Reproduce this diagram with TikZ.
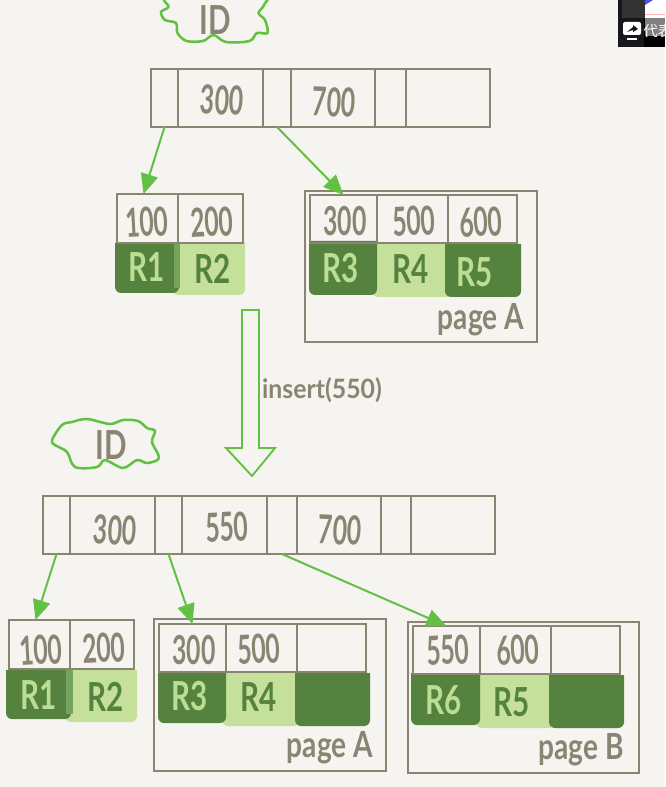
\documentclass[tikz,border=0pt]{standalone}
\usepackage{fontspec}
\setmainfont{Lato}
\newfontfamily\cjkf{Noto Sans CJK SC}
\usetikzlibrary{arrows.meta}
\definecolor{paper}{HTML}{F5F4F0}
\definecolor{ink}{HTML}{8A8472}
\definecolor{leaf}{HTML}{62C143}
\definecolor{darkg}{HTML}{55833F}
\definecolor{lightg}{HTML}{C4E09B}
\definecolor{mixg}{HTML}{76A35C}
\definecolor{pale}{HTML}{BCDD94}
\definecolor{chip}{HTML}{15171A}
\tikzset{
  x=0.75pt,y=-0.75pt,
  cellbox/.style={draw=ink,line width=1.6pt,inner sep=0pt,outer sep=0pt},
  hand/.style={inner sep=0pt,text=ink},
  onlight/.style={inner sep=0pt,text=darkg},
  ondark/.style={inner sep=0pt,text=pale},
  link/.style={draw=leaf,line width=1.5pt,-{Triangle[length=15pt,width=13pt]}},
  cloud line/.style={draw=leaf,line width=1.9pt,line join=round},
}
\newcommand{\mybox}[6]{%
  \pgfmathsetmacro\boxw{(#4-#2)*0.75}\pgfmathsetmacro\boxh{(#5-#3)*0.75}%
  \pgfmathsetmacro\boxx{(#2+#4)/2}\pgfmathsetmacro\boxy{(#3+#5)/2}%
  \node[#6,minimum width=\boxw pt,minimum height=\boxh pt] (#1) at (\boxx,\boxy) {};}
\newcommand{\blk}[5]{\fill[#5] (#1,#2) -- (#3,#2) [rounded corners=4.5pt] -- (#3,#4) -- (#1,#4) [sharp corners] -- cycle;}
\newcommand{\num}[1]{\scalebox{.62}[1]{\fontsize{30}{30}\selectfont\bfseries #1}}
\newcommand{\rr}[1]{\scalebox{.74}[1]{\fontsize{30}{30}\selectfont\bfseries #1}}
\newcommand{\pg}[1]{\scalebox{.78}[1]{\fontsize{27}{27}\selectfont\bfseries #1}}
\begin{document}
\begin{tikzpicture}
\useasboundingbox (0,0) rectangle (665,787);
\fill[paper] (0,0) rectangle (665,787);

% screen-capture corner
\begin{scope}
\clip (618,0) rectangle (665,47);
\fill[chip] (618,0) rectangle (665,47);
\fill[black] (644,18) rectangle (665,47);
\fill[black!80!white] (622,0) rectangle (645,18);
\fill[white] (645,0) rectangle (665,18);
\fill[blue!70!white] (645,0) -- (653,0) -- (645,5) -- cycle;
\fill[gray] (645,18) rectangle (665,36);
\fill[red!30!white] (645,14) rectangle (665,15);
\fill[white,rounded corners=1.5pt] (623,22) rectangle (641,35);
\fill[white] (627,38) rectangle (637,40);
\fill[chip] (627,32) -- (633,27) -- (633,25) -- (638,29) -- (633,32) -- (633,30) -- cycle;
\node[text=white,inner sep=0pt,anchor=west,font=\cjkf\fontsize{11}{11}\selectfont] (cap) at (643,31) {代表};
\end{scope}

% clouds
\draw[cloud line] plot[smooth cycle,tension=.55] coordinates {(170,-4)(168.5,7)(161,12)(165,20)(176,23)(177.5,33)(186.5,41)(203,41)(213.5,35)(226,42)(249.5,41)(257,33)(267.5,33)(265,20)(258.5,13)(264,5)(260,-4)};
\draw[cloud line] plot[smooth cycle,tension=.55] coordinates {(52,440)(62,425)(72,422)(87,419)(110,424)(123,420)(138,421)(147,428)(155,431)(152,442)(159,458)(147,463)(137,460)(123,468)(105,460)(97,467)(75,467)(67,452)(55,445)};
\node[hand] (id1) at (215,20) {\rr{ID}};
\node[hand] (id2) at (111,445) {\rr{ID}};

% colour blocks, top
\blk{172}{243}{245}{295}{lightg}
\blk{115}{243}{179}{293}{darkg}
\fill[mixg] (174,243) rectangle (180,288);
\blk{372}{243}{452}{297}{lightg}
\blk{309}{241}{377}{295}{darkg}
\blk{445}{244}{521}{297}{darkg}
% colour blocks, bottom
\blk{65}{670}{137}{722}{lightg}
\blk{6}{670}{71}{719}{darkg}
\fill[mixg] (66,670) rectangle (73,714);
\blk{222}{673}{300}{726}{lightg}
\blk{158}{671}{226}{723}{darkg}
\blk{295}{673}{370}{726}{darkg}
\blk{476}{675}{555}{728}{lightg}
\blk{411}{673}{480}{725}{darkg}
\blk{549}{675}{624}{728}{darkg}

% top index
\mybox{t0}{151}{69}{178}{127}{cellbox}
\mybox{t1}{178}{69}{263}{127}{cellbox}
\mybox{t2}{263}{69}{291}{127}{cellbox}
\mybox{t3}{291}{69}{375}{127}{cellbox}
\mybox{t4}{375}{69}{406}{127}{cellbox}
\mybox{t5}{406}{69}{490}{127}{cellbox}
% top leaves
\mybox{l1}{117}{194}{178}{243}{cellbox}
\mybox{l2}{178}{194}{243}{243}{cellbox}
\mybox{pA}{305}{191}{537}{342}{cellbox}
\mybox{a1}{310}{195}{377}{243}{cellbox}
\mybox{a2}{377}{195}{448}{243}{cellbox}
\mybox{a3}{448}{195}{517}{243}{cellbox}
% bottom index
\mybox{b0}{43}{496}{70}{554}{cellbox}
\mybox{b1}{70}{496}{155}{554}{cellbox}
\mybox{b2}{155}{496}{182}{554}{cellbox}
\mybox{b3}{182}{496}{267}{554}{cellbox}
\mybox{b4}{267}{496}{297}{554}{cellbox}
\mybox{b5}{297}{496}{381}{554}{cellbox}
\mybox{b6}{381}{496}{411}{554}{cellbox}
\mybox{b7}{411}{496}{495}{554}{cellbox}
% bottom leaves
\mybox{m1}{9}{620}{70}{669}{cellbox}
\mybox{m2}{70}{620}{134}{669}{cellbox}
\mybox{qA}{154}{619}{386}{771}{cellbox}
\mybox{c1}{159}{624}{226}{672}{cellbox}
\mybox{c2}{226}{624}{297}{672}{cellbox}
\mybox{c3}{297}{624}{366}{672}{cellbox}
\mybox{qB}{408}{622}{639}{773}{cellbox}
\mybox{d1}{413}{626}{480}{674}{cellbox}
\mybox{d2}{480}{626}{551}{674}{cellbox}
\mybox{d3}{551}{626}{620}{674}{cellbox}

% cell texts
\node[hand,rotate=-3] (x1) at (222,100) {\num{300}};
\node[hand,rotate=-3] (x2) at (334,102) {\num{700}};
\node[hand,rotate=3] (x3) at (147,222) {\num{100}};
\node[hand,rotate=3] (x4) at (212,222) {\num{200}};
\node[hand] (x5) at (345,221) {\num{300}};
\node[hand,rotate=3] (x6) at (414,221) {\num{500}};
\node[hand,rotate=3] (x7) at (481,222) {\num{600}};
\node[hand,rotate=-3] (y1) at (115,530) {\num{300}};
\node[hand,rotate=3] (y2) at (227,527) {\num{550}};
\node[hand,rotate=-3] (y3) at (340,530) {\num{700}};
\node[hand,rotate=3] (y4) at (41,650) {\num{100}};
\node[hand,rotate=3] (y5) at (104,648) {\num{200}};
\node[hand] (y6) at (194,650) {\num{300}};
\node[hand,rotate=3] (y7) at (259,649) {\num{500}};
\node[hand,rotate=3] (y8) at (448,650) {\num{550}};
\node[hand,rotate=3] (y9) at (518,650) {\num{600}};

% block texts
\node[ondark] (r1) at (147,267) {\rr{R1}};
\node[onlight] (r2) at (213,269) {\rr{R2}};
\node[ondark] (r3) at (341,268) {\rr{R3}};
\node[onlight] (r4) at (411,269) {\rr{R4}};
\node[ondark] (r5) at (475,272) {\rr{R5}};
\node[ondark] (s1) at (39,695) {\rr{R1}};
\node[onlight] (s2) at (106,697) {\rr{R2}};
\node[ondark] (s3) at (190,696) {\rr{R3}};
\node[onlight] (s4) at (259,697) {\rr{R4}};
\node[ondark] (s6) at (444,700) {\rr{R6}};
\node[onlight] (s5) at (512,702) {\rr{R5}};

\node[hand] (pa) at (481,320) {\pg{page A}};
\node[hand] (qa) at (330,748) {\pg{page A}};
\node[hand] (qb) at (581,750) {\pg{page B}};

% hollow arrow
\draw[draw=leaf,line width=1.4pt,line join=miter] (242,310) -- (259,310) -- (259,448) -- (275,448) -- (252,476) -- (226,448) -- (242,448) -- cycle;
\node[hand] (ins) at (322,390) {\scalebox{.93}[1]{\fontsize{20}{20}\selectfont\bfseries insert(550)}};

% connectors
\draw[link] (t0.south) -- ([xshift=-3pt]l1.north);
\draw[link] (t2.south) -- (a1.north);
\draw[link] (b0.south) -- ([xshift=-3pt]m1.north);
\draw[link] (b2.south) -- (c1.north);
\draw[link] (b4.south) -- (d1.north);
\end{tikzpicture}
\end{document}
